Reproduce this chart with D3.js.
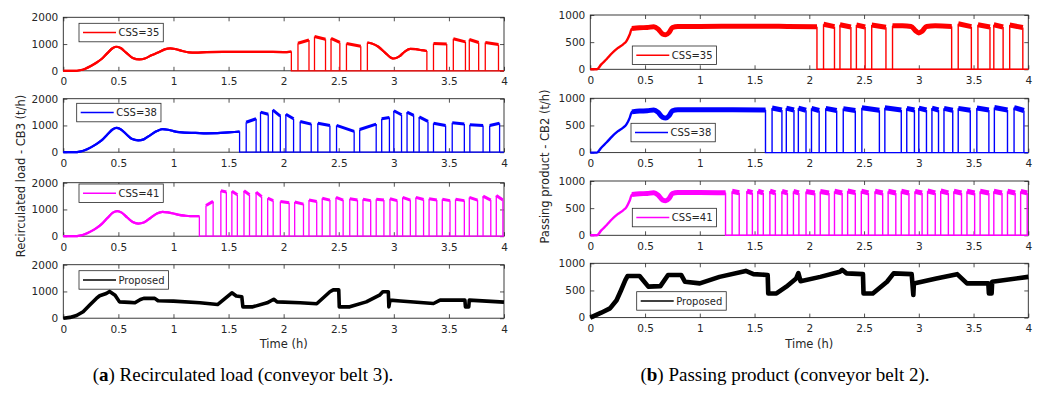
<!DOCTYPE html>
<meta charset="utf-8">
<style>
body { margin: 0; background: #fff; }
text { font-family: "DejaVu Sans", sans-serif; fill: #262626; }
.caption { font-family: "Liberation Serif", serif; font-size: 19px; fill: #000; }
</style>
<svg width="1041" height="402"></svg>
<script src="https://d3js.org/d3.v7.min.js"></script>
<script>

var svg = d3.select("svg");

// axis ticks
var timeTicks = [0, 0.5, 1, 1.5, 2, 2.5, 3, 3.5, 4];
var recircTicks = [0, 1000, 2000];
var passTicks = [0, 500, 1000];
var legendNames = ["CSS=35", "CSS=38", "CSS=41", "Proposed"];

// switch on / switch off times of the conveyor (h) for each CSS
var onOff35 = [[2.13, 2.23], [2.28, 2.38], [2.43, 2.51], [2.57, 2.70], [3.36, 3.48], [3.54, 3.65], [3.685, 3.77], [3.83, 3.95]];
var onOff38 = [[1.66, 1.75], [1.79, 1.86], [1.90, 1.97], [2.02, 2.09], [2.15, 2.25], [2.31, 2.42], [2.48, 2.64], [2.69, 2.84],
               [2.89, 2.96], [3.00, 3.07], [3.12, 3.18], [3.23, 3.31], [3.36, 3.47], [3.53, 3.64], [3.69, 3.81], [3.87, 3.96]];
var onOff41 = [[1.295, 1.36], [1.43, 1.48], [1.53, 1.58], [1.64, 1.69], [1.75, 1.80], [1.855, 1.905], [1.97, 2.05], [2.10, 2.18],
               [2.23, 2.30], [2.35, 2.42], [2.475, 2.54], [2.60, 2.67], [2.72, 2.79], [2.84, 2.91], [2.965, 3.03], [3.08, 3.15],
               [3.20, 3.27], [3.32, 3.39], [3.44, 3.51], [3.56, 3.64], [3.685, 3.76], [3.81, 3.88], [3.93, 3.99]];

// recirculated load - CB3 (t/h)
var recircStart35 = [[0, 0], [0.1, 0], [0.15, 20], [0.2, 80], [0.25, 180], [0.3, 300], [0.35, 450], [0.4, 660], [0.45, 850],
  [0.48, 900], [0.52, 850], [0.57, 680], [0.63, 480], [0.69, 425], [0.74, 460], [0.8, 580], [0.86, 680], [0.92, 800],
  [0.97, 840], [1.02, 810], [1.08, 740], [1.14, 690], [1.2, 680], [1.3, 700], [1.45, 710], [1.6, 710], [1.8, 710],
  [2.0, 700], [2.07, 720]];
var recircMid35 = [[2.76, 1050], [2.8, 1020], [2.86, 900], [2.92, 680], [2.97, 500], [3.0, 460], [3.05, 540],
  [3.1, 720], [3.15, 820], [3.2, 810], [3.25, 770], [3.3, 740]];
var recircTop35 = [[1030, 1150], [1280, 1180], [1210, 1060], [1020, 920], [1020, 1000], [1200, 1080], [1170, 1060], [1060, 980]];

var recircStart38 = [[0, 0], [0.1, 0], [0.15, 20], [0.2, 80], [0.25, 180], [0.3, 300], [0.35, 450], [0.4, 660], [0.45, 860],
  [0.48, 910], [0.52, 860], [0.57, 680], [0.62, 500], [0.68, 440], [0.73, 480], [0.79, 640], [0.85, 790], [0.9, 860],
  [0.95, 840], [1.0, 790], [1.05, 750], [1.1, 730], [1.2, 720], [1.3, 705], [1.4, 710], [1.5, 740], [1.6, 770]];
var recircTop38 = [[1120, 1250], [1500, 1420], [1580, 1350], [1420, 1250], [1150, 1050], [1080, 1000], [1000, 780], [850, 1050],
  [1250, 1300], [1550, 1400], [1500, 1380], [1320, 1150], [1080, 1000], [1100, 1050], [1030, 1000], [1000, 1080]];

var recircStart41 = [[0, 0], [0.1, 0], [0.15, 20], [0.2, 80], [0.25, 180], [0.3, 300], [0.35, 460], [0.4, 680], [0.45, 880],
  [0.49, 940], [0.53, 880], [0.58, 700], [0.63, 530], [0.68, 470], [0.73, 510], [0.79, 680], [0.85, 850], [0.9, 910],
  [0.95, 890], [1.0, 850], [1.05, 800], [1.1, 770], [1.15, 750], [1.235, 750]];
var recircTop41 = [[1150, 1300], [1700, 1650], [1680, 1550], [1700, 1550], [1650, 1480], [1420, 1330], [1300, 1250], [1280, 1200],
  [1350, 1300], [1420, 1350], [1450, 1350], [1400, 1350], [1380, 1330], [1380, 1350], [1400, 1330], [1450, 1350],
  [1450, 1370], [1400, 1350], [1380, 1330], [1380, 1330], [1450, 1350], [1500, 1350], [1520, 1350]];

var recircProposed = [[0, 0], [0.06, 30], [0.12, 100], [0.18, 240], [0.24, 490], [0.30, 740], [0.33, 840], [0.39, 925],
  [0.42, 1000], [0.47, 860], [0.51, 610], [0.6, 590], [0.65, 575], [0.70, 700], [0.73, 740], [0.83, 740], [0.86, 650],
  [1.0, 640], [1.24, 575], [1.40, 510], [1.53, 950], [1.57, 830], [1.62, 800], [1.63, 425], [1.72, 425], [1.85, 575],
  [1.91, 710], [1.94, 610], [2.15, 575], [2.30, 540], [2.42, 990], [2.45, 1060], [2.50, 1060], [2.505, 425], [2.60, 425],
  [2.75, 610], [2.87, 860], [2.90, 990], [2.95, 990], [2.955, 425], [2.965, 675], [3.06, 640], [3.36, 550], [3.42, 675],
  [3.645, 675], [3.65, 425], [3.68, 425], [3.685, 675], [4.0, 600]];

// passing product - CB2 (t/h)
var passStart = [[0, 0], [0.06, 0], [0.1, 90], [0.15, 190], [0.2, 300], [0.25, 390], [0.3, 460], [0.33, 520], [0.36, 640],
  [0.38, 750], [0.45, 765], [0.52, 770], [0.58, 785], [0.62, 740], [0.66, 650], [0.69, 635], [0.72, 680], [0.75, 770],
  [0.8, 790]];
var passFlat35 = [[1.0, 790], [1.4, 795], [1.8, 790], [2.07, 785]];
var passFlat38 = [[1.0, 790], [1.3, 790], [1.6, 785]];
var passFlat41 = [[1.0, 790], [1.235, 785]];
var passMid35 = [[2.76, 800], [2.85, 800], [2.93, 790], [2.97, 710], [3.0, 670], [3.03, 700], [3.07, 790], [3.15, 800], [3.3, 790]];
var passTop35 = [[830, 785], [820, 780], [815, 780], [815, 775], [840, 785], [820, 780], [820, 780], [815, 770]];
var passTop38 = [[820, 785], [820, 785], [820, 780], [815, 775], [815, 775], [810, 775], [825, 780], [825, 785],
  [815, 785], [820, 785], [820, 785], [815, 780], [815, 780], [820, 785], [830, 785], [830, 775]];
var passTop41 = [[810, 785], [815, 785], [815, 780], [815, 780], [810, 780], [810, 780], [805, 780], [805, 780],
  [810, 780], [815, 785], [815, 780], [810, 780], [810, 780], [810, 780], [810, 780], [815, 780],
  [815, 780], [810, 780], [810, 780], [810, 780], [810, 780], [810, 780], [810, 780]];

var passProposed = [[0, 0], [0.1, 90], [0.18, 170], [0.24, 320], [0.28, 500], [0.32, 690], [0.34, 765], [0.45, 765],
  [0.53, 570], [0.64, 580], [0.71, 785], [0.83, 785], [0.865, 660], [1.0, 630], [1.18, 750], [1.42, 860], [1.49, 800],
  [1.62, 785], [1.625, 445], [1.70, 445], [1.79, 570], [1.88, 720], [1.90, 820], [1.92, 670], [2.10, 750], [2.28, 845],
  [2.30, 880], [2.34, 815], [2.49, 800], [2.495, 445], [2.58, 445], [2.71, 660], [2.77, 815], [2.935, 800], [2.95, 415],
  [2.955, 630], [3.16, 720], [3.35, 800], [3.44, 630], [3.635, 630], [3.64, 445], [3.665, 445], [3.67, 660], [4.0, 750]];

var colors = ["#ff0000", "#0000ff", "#ff00ff", "#000000"];

var columns = [
  {
    x0: 63.3, x1: 504, tops: [17.3, 98.7, 182.7, 264.7], h: 53.5, yMax: 2000, yTicks: recircTicks,
    series: [
      {start: recircStart35, mid: recircMid35, onOff: onOff35, top: recircTop35},
      {start: recircStart38, onOff: onOff38, top: recircTop38},
      {start: recircStart41, onOff: onOff41, top: recircTop41},
      {line: recircProposed}
    ],
    legend: [[15.7, 6], [13.4, 4.6], [15.7, 1.3], [15.7, 6]],
    w: {thin: 1.3, smooth: 2.2, band: 2.2, top: 3, proposed: 3.6}, bandFrom: 0,
    ylabel: "Recirculated load - CB3 (t/h)", ylx: 25, yly: 176, xlabelX: 283.7,
    caption: ["a", ") Recirculated load (conveyor belt 3)."], capX: 243
  },
  {
    x0: 590.3, x1: 1028.3, tops: [15, 98.3, 181, 263.3], h: 54.3, yMax: 1000, yTicks: passTicks,
    series: [
      {start: passStart.concat(passFlat35), mid: passMid35, onOff: onOff35, top: passTop35},
      {start: passStart.concat(passFlat38), onOff: onOff38, top: passTop38},
      {start: passStart.concat(passFlat41), onOff: onOff41, top: passTop41},
      {line: passProposed}
    ],
    legend: [[42, 31], [40.7, 25], [42, 27.3], [46.4, 28.4]],
    w: {thin: 1.4, smooth: 2.4, band: 5, top: 5, proposed: 4.6}, bandFrom: 0.37,
    ylabel: "Passing product - CB2 (t/h)", ylx: 549.3, yly: 166.5, xlabelX: 809.3,
    caption: ["b", ") Passing product (conveyor belt 2)."], capX: 785
  }
];

columns.forEach(function(col) {
  var width = col.x1 - col.x0;
  var x = d3.scaleLinear().domain([0, 4]).range([0, width]);
  var y = d3.scaleLinear().domain([0, col.yMax]).range([col.h, 0]);
  var line = d3.line().x(function(d) { return x(d[0]); }).y(function(d) { return y(d[1]); });
  var smooth = d3.line().curve(d3.curveMonotoneX).x(function(d) { return x(d[0]); }).y(function(d) { return y(d[1]); });

  col.tops.forEach(function(top, i) {
    var g = svg.append("g").attr("transform", "translate(" + col.x0 + "," + top + ")");

    // axes, MATLAB style: ticks inside on all four sides
    g.append("g").attr("transform", "translate(0," + col.h + ")")
        .call(d3.axisBottom(x).tickValues(timeTicks).tickSize(-4).tickPadding(7).tickFormat(d3.format("~g")));
    g.append("g").call(d3.axisTop(x).tickValues(timeTicks).tickSize(-4).tickFormat(""));
    g.append("g").call(d3.axisLeft(y).tickValues(col.yTicks).tickSize(-4).tickPadding(5).tickFormat(d3.format("~g")));
    g.append("g").attr("transform", "translate(" + width + ",0)")
        .call(d3.axisRight(y).tickValues(col.yTicks).tickSize(-4).tickFormat(""));
    g.selectAll(".domain").remove();
    g.selectAll(".tick line").attr("stroke", "#262626").attr("stroke-width", 0.8);
    g.selectAll(".tick text").attr("fill", "#262626").attr("font-family", "DejaVu Sans").attr("font-size", 10.5);
    g.append("rect").attr("width", width).attr("height", col.h)
        .attr("fill", "none").attr("stroke", "#262626").attr("stroke-width", 0.9);

    var s = col.series[i], color = colors[i];

    if (s.line) {
      g.append("path").attr("d", line(s.line)).attr("fill", "none")
          .attr("stroke", color).attr("stroke-width", col.w.proposed).attr("stroke-linejoin", "round");
    } else {
      // thin vertical edges and the zero level
      var last = s.start[s.start.length - 1];
      var thin = [[last, [last[0], 0], [4, 0]]];
      s.onOff.forEach(function(p, k) {
        thin.push([[p[0], 0], [p[0], s.top[k][0]]]);
        thin.push([[p[1], s.top[k][1]], [p[1], 0]]);
      });
      if (s.mid) {
        var m0 = s.mid[0], m1 = s.mid[s.mid.length - 1];
        thin.push([[m0[0], 0], m0]);
        thin.push([m1, [m1[0], 0]]);
      }
      g.selectAll(null).data(thin).join("path")
          .attr("d", line).attr("fill", "none")
          .attr("stroke", color).attr("stroke-width", col.w.thin);

      var parts = [s.start].concat(s.mid ? [s.mid] : []);
      g.selectAll(null).data(parts).join("path")
          .attr("d", smooth).attr("fill", "none")
          .attr("stroke", color).attr("stroke-width", col.w.smooth);

      // thick band where the signal chatters
      var band = parts.map(function(p) { return p.filter(function(d) { return d[0] >= col.bandFrom; }); })
          .filter(function(p) { return p.length > 1; });
      g.selectAll(null).data(band).join("path")
          .attr("d", smooth).attr("fill", "none")
          .attr("stroke", color).attr("stroke-width", col.w.band);

      // pulse tops
      var tops = s.onOff.map(function(p, k) { return [[p[0], s.top[k][0]], [p[1], s.top[k][1]]]; });
      g.selectAll(null).data(tops).join("path")
          .attr("d", line).attr("fill", "none")
          .attr("stroke", color).attr("stroke-width", col.w.top).attr("stroke-linecap", "butt");
    }

    // legend
    var lg = g.append("g").attr("transform", "translate(" + col.legend[i][0] + "," + col.legend[i][1] + ")");
    var txt = lg.append("text").attr("x", 39.5).attr("y", 13.2)
        .attr("font-size", 10).attr("fill", "#000").text(legendNames[i]);
    var tw = txt.node().getComputedTextLength();
    lg.insert("rect", "text").attr("width", 39.5 + tw + 4).attr("height", 18.5)
        .attr("fill", "#fff").attr("stroke", "#262626").attr("stroke-width", 0.8);
    lg.insert("line", "text").attr("x1", 4).attr("x2", 37).attr("y1", 9.25).attr("y2", 9.25)
        .attr("stroke", color).attr("stroke-width", 1.4);
  });

  // y label, x label, caption
  svg.append("text")
      .attr("transform", "translate(" + col.ylx + "," + col.yly + ") rotate(-90)")
      .attr("text-anchor", "middle").attr("font-size", 11.5).text(col.ylabel);

  svg.append("text").attr("x", col.xlabelX).attr("y", 348)
      .attr("text-anchor", "middle").attr("font-size", 11.5).text("Time (h)");

  var cap = svg.append("text").attr("class", "caption").attr("x", col.capX).attr("y", 381).attr("text-anchor", "middle");
  cap.append("tspan").text("(");
  cap.append("tspan").attr("font-weight", "bold").text(col.caption[0]);
  cap.append("tspan").text(col.caption[1]);
});

</script>
